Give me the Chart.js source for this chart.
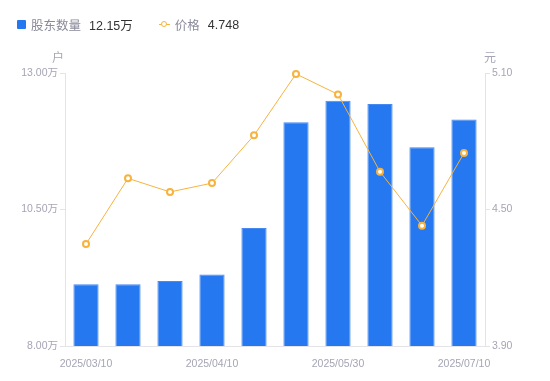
<!DOCTYPE html>
<html>
<head>
<meta charset="utf-8">
<script src="https://cdn.jsdelivr.net/npm/chart.js@4/dist/chart.umd.min.js"></script>
<style>
  html, body { margin: 0; padding: 0; background: #fff; }
  #wrap { position: relative; width: 550px; height: 381px; }
  #legend { position: absolute; left: 17px; top: 15px; font-family: "Liberation Sans", "Noto Sans CJK SC", sans-serif; font-size: 12.5px; display: flex; align-items: center; }
  .item { display: flex; align-items: center; margin-right: 26px; }
  .name { color: #8a8a9a; margin-right: 8px; }
  .val { color: #333; }
  .sq { width: 9px; height: 9px; background: #2678f0; border-radius: 1px; margin-right: 5px; }
  .ln { position: relative; width: 11px; height: 9px; margin-right: 5px; }
  .ln:before { content: ""; position: absolute; left: 0; right: 0; top: 4px; height: 1px; background: #f7b33d; }
  .ln:after { content: ""; position: absolute; left: 2px; top: 1px; width: 4px; height: 4px; border: 1.5px solid #f7b33d; border-radius: 50%; background: #fff; }
</style>
</head>
<body>
<div id="wrap">
  <canvas id="myChart" width="550" height="381"></canvas>
  <div id="legend"></div>
</div>
<script>
const labels = ['2025/03/10', '2025/03/20', '2025/03/31', '2025/04/10', '2025/04/30',
                '2025/05/20', '2025/05/30', '2025/06/10', '2025/06/30', '2025/07/10'];
const holders = [9.13, 9.13, 9.19, 9.31, 10.16, 12.10, 12.49, 12.43, 11.64, 12.15];
const prices = [4.348, 4.637, 4.577, 4.616, 4.826, 5.096, 5.006, 4.666, 4.429, 4.748];
const holderTicks = [8, 10.5, 13];
const priceTicks = [3.9, 4.5, 5.1];

document.getElementById('legend').innerHTML =
    '<div class="item"><span class="sq"></span><span class="name">股东数量</span><span class="val">' +
    holders[holders.length - 1].toFixed(2) + '万</span></div>' +
    '<div class="item"><span class="ln"></span><span class="name">价格</span><span class="val">' +
    prices[prices.length - 1].toFixed(3) + '</span></div>';

const tickColor = '#a5a5b5';
const lineGray = '#e3e3e8';
const font = { family: '"Liberation Sans", "Noto Sans CJK SC", sans-serif', size: 10.5 };

const unitTitles = {
    id: 'unitTitles',
    afterDraw(chart) {
        const ctx = chart.ctx;
        const a = chart.chartArea;
        ctx.save();
        ctx.fillStyle = tickColor;
        ctx.font = '12px "Noto Sans CJK SC", sans-serif';
        ctx.textAlign = 'center';
        ctx.textBaseline = 'middle';
        ctx.fillText('户', a.left - 7, 57);
        ctx.fillText('元', a.right + 5, 57);
        ctx.restore();
    }
};

const ctx = document.getElementById('myChart').getContext('2d');
new Chart(ctx, {
    data: {
        labels: labels,
        datasets: [{
            type: 'line',
            label: '价格',
            data: prices,
            yAxisID: 'y1',
            order: 0,
            clip: false,
            borderColor: '#f7b33d',
            borderWidth: 1,
            pointRadius: 3,
            pointBorderWidth: 2,
            pointBackgroundColor: '#fff',
            pointBorderColor: '#f7b33d',
            tension: 0
        }, {
            type: 'bar',
            label: '股东数量',
            data: holders,
            yAxisID: 'y',
            order: 1,
            backgroundColor: '#2678f0',
            borderColor: '#4689f2',
            borderWidth: 1,
            categoryPercentage: 0.6,
            barPercentage: 1
        }]
    },
    options: {
        responsive: false,
        animation: false,
        layout: { padding: { top: 73, left: 0, right: 0, bottom: 0 } },
        plugins: {
            legend: { display: false },
            tooltip: { enabled: false }
        },
        scales: {
            x: {
                grid: { display: false },
                border: { display: true, color: lineGray },
                afterFit(s) { s.height = 35; },
                ticks: {
                    autoSkip: false,
                    maxRotation: 0,
                    color: tickColor,
                    font: font,
                    padding: 4,
                    callback: function (v, i) { return i % 3 === 0 ? labels[i] : ''; }
                }
            },
            y: {
                position: 'left',
                min: 8, max: 13,
                afterFit(s) { s.width = 65; },
                afterBuildTicks(s) { s.ticks = holderTicks.map(v => ({ value: v })); },
                grid: { drawOnChartArea: false, tickLength: 5, color: lineGray },
                border: { display: true, color: lineGray },
                ticks: {
                    color: tickColor, font: font, padding: 2,
                    callback: v => v.toFixed(2) + '万'
                }
            },
            y1: {
                position: 'right',
                min: 3.9, max: 5.1,
                afterFit(s) { s.width = 65; },
                afterBuildTicks(s) { s.ticks = priceTicks.map(v => ({ value: v })); },
                grid: { drawOnChartArea: false, tickLength: 5, color: lineGray },
                border: { display: true, color: lineGray },
                ticks: {
                    color: tickColor, font: font, padding: 2,
                    callback: v => v.toFixed(2)
                }
            }
        }
    },
    plugins: [unitTitles]
});
</script>
</body>
</html>
